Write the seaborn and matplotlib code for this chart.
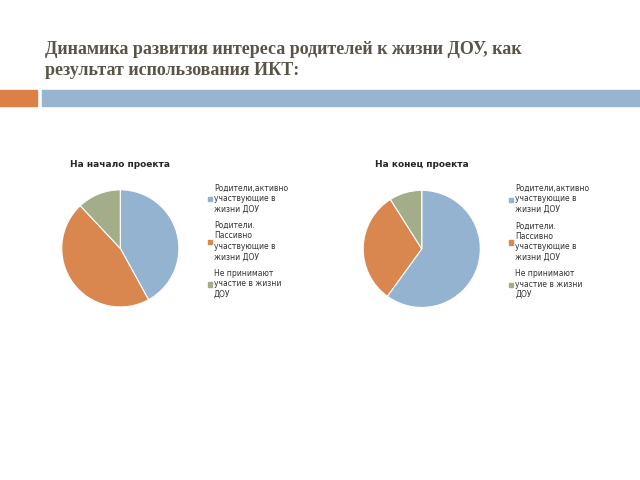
import matplotlib
matplotlib.use("Agg")
import matplotlib.pyplot as plt
import seaborn as sns
from matplotlib.patches import Rectangle, Patch

sns.set_theme(style="white")

title = "Динамика развития интереса родителей к жизни ДОУ, как\nрезультат использования ИКТ:"
labels_start = ["Родители,активно\nучаствующие в\nжизни ДОУ", "Родители.\nПассивно\nучаствующие в\nжизни ДОУ", "Не принимают\nучастие в жизни\nДОУ"]
labels_end = labels_start
start_values = [42, 46, 12]
end_values = [60, 31, 9]
colors = ["#93b3d0", "#d9874e", "#a4ad8a"]

fig = plt.figure(figsize=(6.4, 4.8), dpi=100)
fig.text(0.07, 0.835, title, fontsize=13, fontweight="bold", family="Liberation Serif",
         color="#5a5448", va="bottom", linespacing=1.3)
fig.patches.append(Rectangle((0, 0.78), 0.058, 0.032, transform=fig.transFigure, color="#dd8047", figure=fig))
fig.patches.append(Rectangle((0.066, 0.78), 0.934, 0.032, transform=fig.transFigure, color="#97b5d1", figure=fig))

def draw(ax, values, labels, name):
    ax.pie(values, colors=colors, startangle=90, counterclock=False,
           wedgeprops=dict(edgecolor="white", linewidth=0.8))
    ax.set_title(name, fontsize=6.5, fontweight="bold", pad=6)
    handles = [Patch(color=c, label=l) for c, l in zip(colors, labels)]
    leg = ax.legend(handles=handles, loc="center left", bbox_to_anchor=(1.05, 0.55), fontsize=5.5,
                    frameon=False, handlelength=0.5, handleheight=0.5, labelspacing=1.0,
                    handletextpad=0.3)
    for t in leg.get_texts():
        t.set_color("#333333")
    ax.set_aspect("equal")

ax1 = fig.add_axes([0.073, 0.33, 0.23, 0.305])
draw(ax1, start_values, labels_start, "На начало проекта")
ax2 = fig.add_axes([0.544, 0.329, 0.23, 0.305])
draw(ax2, end_values, labels_end, "На конец проекта")

fig.savefig("out.png", dpi=100)
